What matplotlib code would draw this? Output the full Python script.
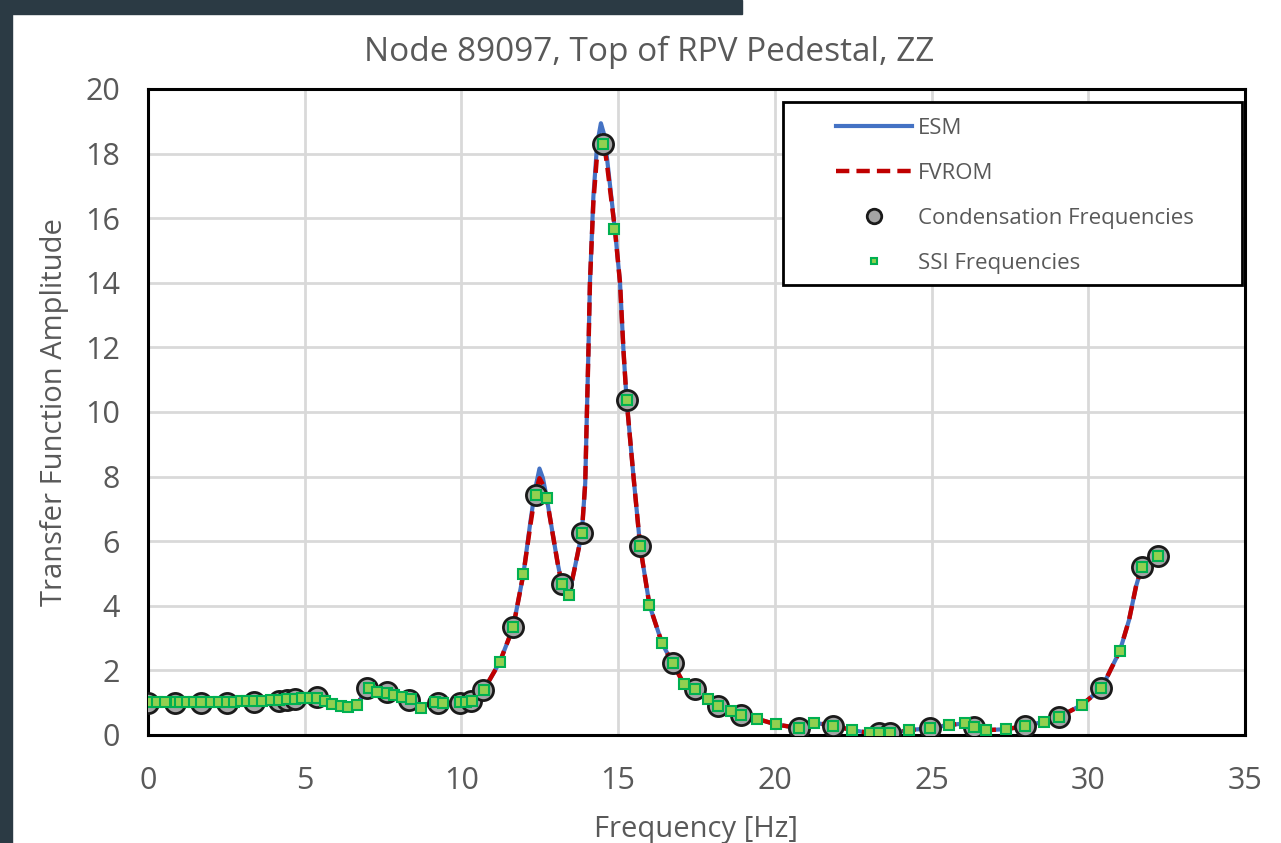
import numpy as np
import matplotlib.pyplot as plt
from matplotlib.patches import Rectangle

plt.rcParams['font.family'] = ['Open Sans', 'DejaVu Sans']

# ESM transfer function curve
curve_freq = [0.0, 0.5, 1.0, 1.5, 2.0, 2.5, 3.0, 3.5, 4.0, 4.5, 5.0, 5.4, 5.65, 5.9,
              6.15, 6.4, 6.66, 6.8, 6.9, 7.03, 7.32, 7.61, 7.85, 8.11, 8.38, 8.55,
              8.7, 8.9, 9.17, 9.41, 9.97, 10.13, 10.34, 10.71, 11.22, 11.65, 11.98,
              12.2, 12.35, 12.49, 12.6, 12.72, 12.91, 13.07, 13.2, 13.43, 13.6, 13.84,
              13.95, 14.0, 14.05, 14.1, 14.21, 14.33, 14.45, 14.55, 14.64, 14.9,
              15.06, 15.17, 15.27, 15.49, 15.7, 16.0, 16.4, 16.74, 17.1, 17.45,
              17.86, 18.19, 18.59, 18.92, 19.44, 20.03, 20.77, 21.24, 21.86, 22.47,
              23.05, 23.32, 23.66, 24.28, 24.94, 25.55, 26.08, 26.34, 26.74, 27.38,
              27.99, 28.58, 29.05, 29.79, 30.42, 31.01, 31.3, 31.52, 31.7, 31.95,
              32.22, 32.3]
esm_amp = [1.0, 1.0, 1.0, 1.0, 1.0, 1.01, 1.03, 1.05, 1.07, 1.1, 1.15, 1.17, 1.06, 0.95,
           0.9, 0.88, 0.92, 1.15, 1.35, 1.45, 1.34, 1.29, 1.24, 1.17, 1.1, 0.95,
           0.83, 0.93, 1.01, 0.98, 1.0, 1.01, 1.05, 1.39, 2.25, 3.33, 5.0,
           6.6, 7.6, 8.25, 7.95, 7.35, 6.24, 5.32, 4.69, 4.33, 5.1, 6.24,
           7.8, 9.85, 11.8, 14.0, 16.67, 18.3, 18.94, 18.6, 17.9, 15.63,
           14.0, 11.9, 10.37, 8.0, 5.86, 4.02, 2.84, 2.22, 1.58, 1.41,
           1.11, 0.91, 0.75, 0.62, 0.5, 0.33, 0.21, 0.38, 0.29, 0.15,
           0.06, 0.05, 0.05, 0.15, 0.21, 0.31, 0.36, 0.26, 0.15, 0.18,
           0.28, 0.41, 0.55, 0.93, 1.44, 2.61, 3.56, 4.59, 5.19, 5.45,
           5.54, 5.6]
fvrom_amp = [1.0, 1.0, 1.0, 1.0, 1.0, 1.01, 1.03, 1.05, 1.07, 1.1, 1.15, 1.17, 1.06, 0.95,
             0.9, 0.88, 0.92, 1.15, 1.35, 1.45, 1.34, 1.29, 1.24, 1.17, 1.1, 0.95,
             0.83, 0.93, 1.01, 0.98, 1.0, 1.01, 1.05, 1.39, 2.25, 3.33, 5.0,
             6.5, 7.45, 7.95, 7.75, 7.33, 6.24, 5.32, 4.69, 4.33, 5.1, 6.24,
             7.8, 9.85, 11.8, 14.0, 16.5, 18.0, 18.4, 18.3, 17.7, 15.63,
             14.0, 11.9, 10.37, 8.0, 5.86, 4.02, 2.84, 2.22, 1.58, 1.41,
             1.11, 0.91, 0.75, 0.62, 0.5, 0.33, 0.21, 0.38, 0.29, 0.15,
             0.06, 0.05, 0.05, 0.15, 0.21, 0.31, 0.36, 0.26, 0.15, 0.18,
             0.28, 0.41, 0.55, 0.93, 1.44, 2.61, 3.56, 4.59, 5.19, 5.45,
             5.54, 5.6]

# condensation frequencies
cond_freq = [0.0, 0.86, 1.68, 2.52, 3.37, 4.17, 4.44, 4.7, 5.39, 6.98, 7.62, 8.34,
             9.24, 9.97, 10.32, 10.7, 11.65, 12.38, 13.2, 13.84, 14.53, 15.27,
             15.7, 16.74, 17.45, 18.19, 18.92, 20.77, 21.86, 23.32, 23.66, 24.94,
             26.34, 27.99, 29.05, 30.42, 31.7, 32.22]
cond_amp = [1.0, 1.0, 1.0, 1.0, 1.03, 1.06, 1.07, 1.1, 1.17, 1.45, 1.33, 1.08,
            1.0, 1.0, 1.05, 1.38, 3.33, 7.42, 4.69, 6.24, 18.29, 10.37,
            5.86, 2.22, 1.41, 0.91, 0.62, 0.21, 0.29, 0.05, 0.05, 0.21,
            0.26, 0.28, 0.55, 1.44, 5.19, 5.54]

# SSI frequencies
ssi_freq = [0.04, 0.28, 0.55, 0.89, 1.03, 1.26, 1.47, 1.68, 2.0, 2.26, 2.53, 2.74,
            2.96, 3.17, 3.38, 3.65, 3.92, 4.18, 4.45, 4.68, 4.92, 5.16, 5.4, 5.64,
            5.88, 6.15, 6.38, 6.66, 7.05, 7.32, 7.61, 7.85, 8.11, 8.38, 8.7, 9.17,
            9.41, 9.97, 10.13, 10.34, 10.71, 11.22, 11.65, 11.98, 12.38, 12.72,
            13.2, 13.43, 13.84, 14.53, 14.88, 15.27, 15.7, 16.0, 16.4, 16.74, 17.1,
            17.45, 17.86, 18.19, 18.59, 18.92, 19.44, 20.03, 20.77, 21.24, 21.86,
            22.47, 23.05, 23.32, 23.66, 24.28, 24.94, 25.55, 26.08, 26.34, 26.74,
            27.38, 27.99, 28.58, 29.05, 29.79, 30.42, 31.01, 31.7, 32.22]
ssi_amp = [1.01, 1.01, 1.01, 1.01, 1.01, 1.01, 1.01, 1.01, 1.01, 1.01, 1.01, 1.01,
           1.04, 1.05, 1.05, 1.05, 1.08, 1.08, 1.1, 1.13, 1.16, 1.16, 1.16, 1.06,
           0.95, 0.9, 0.88, 0.92, 1.45, 1.34, 1.29, 1.24, 1.17, 1.1, 0.83, 1.01,
           0.98, 1.01, 1.01, 1.05, 1.39, 2.25, 3.33, 5.0, 7.42, 7.33,
           4.69, 4.33, 6.24, 18.29, 15.66, 10.37, 5.86, 4.02, 2.84, 2.22, 1.58,
           1.41, 1.11, 0.91, 0.75, 0.62, 0.5, 0.33, 0.21, 0.38, 0.29,
           0.15, 0.06, 0.05, 0.05, 0.15, 0.21, 0.31, 0.36, 0.26, 0.15,
           0.18, 0.28, 0.41, 0.55, 0.93, 1.44, 2.61, 5.19, 5.54]

xticks = [0, 5, 10, 15, 20, 25, 30, 35]
yticks = [0, 2, 4, 6, 8, 10, 12, 14, 16, 18, 20]

txt = '#595959'

fig = plt.figure(figsize=(12.81, 8.43), dpi=100)
# dark window border around the chart
fig.patches.append(Rectangle((0, 0), 12/1281, 1, transform=fig.transFigure,
                             color='#2b3a44', zorder=0))
fig.patches.append(Rectangle((0, 1 - 14/843), 742/1281, 14/843,
                             transform=fig.transFigure, color='#2b3a44', zorder=0))

ax = fig.add_axes([148/1281, 108/843, 1097/1281, 646/843])

ax.plot(curve_freq, esm_amp, '-', color='#4472c4', lw=3, label='ESM', zorder=3)
ax.plot(curve_freq, fvrom_amp, '--', color='#c00000', lw=3.2, dashes=(3, 1.6),
        label='FVROM', zorder=4)
ax.plot(cond_freq, cond_amp, 'o', ms=14.5, mfc='#a5a5a5', mec='#1a1a1a', mew=2,
        ls='none', label='Condensation Frequencies', zorder=5)
ax.plot(ssi_freq, ssi_amp, 's', ms=6.5, mfc='#92d050', mec='#00b050', mew=1.5,
        ls='none', label='SSI Frequencies', zorder=6)

ax.set_xlim(0, 35)
ax.set_ylim(0, 20)
ax.set_xticks(xticks)
ax.set_yticks(yticks)
ax.grid(True, color='#d9d9d9', lw=2)
ax.set_axisbelow(True)
ax.tick_params(length=0, labelsize=22, labelcolor=txt)
ax.tick_params(axis='x', pad=22)
ax.tick_params(axis='y', pad=20)
for s in ax.spines.values():
    s.set_linewidth(2.2)
    s.set_color('black')

ax.set_xlabel('Frequency [Hz]', fontsize=21, color=txt, labelpad=14)
ax.set_ylabel('Transfer Function Amplitude', fontsize=21, color=txt, labelpad=12)
fig.text(649/1281, 1 - 52/843, 'Node 89097, Top of RPV Pedestal, ZZ',
         fontsize=24, color=txt, ha='center', va='center')

# legend box drawn separately, legend entries without frame
ax.add_patch(Rectangle((0.5789, 0.6966), 0.4184, 0.2833, transform=ax.transAxes,
                       fc='white', ec='black', lw=2, zorder=7))
leg = ax.legend(loc='upper left', bbox_to_anchor=((836 - 148)/1097, (735 - 118)/646),
                borderaxespad=0, borderpad=0, fontsize=16, frameon=False,
                handlelength=3.4, labelspacing=1.08, handletextpad=0.27,
                markerscale=0.72)
leg.set_zorder(8)
for t in leg.get_texts():
    t.set_color(txt)

fig.savefig('out.png', dpi=100)
